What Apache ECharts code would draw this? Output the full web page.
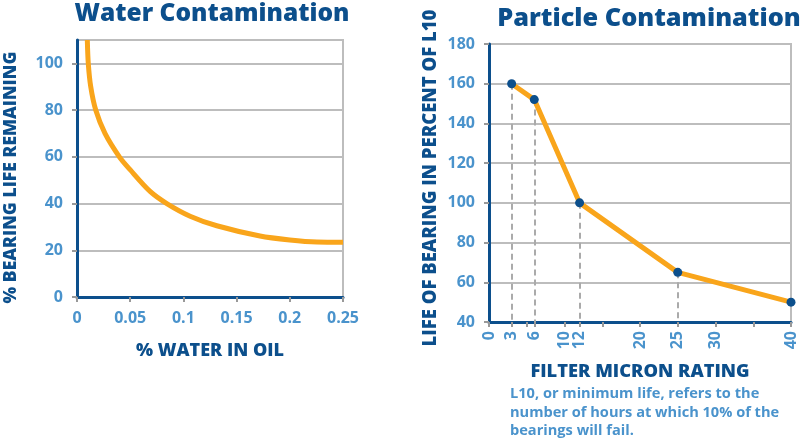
<!DOCTYPE html>
<html><head><meta charset="utf-8">
<script src="https://cdn.jsdelivr.net/npm/echarts@6/dist/echarts.min.js"></script>
<style>html,body{margin:0;padding:0;background:#fff}#c{width:800px;height:440px}</style>
</head><body><div id="c"></div>
<script>
// Water contamination curve (x = % water in oil, y = % bearing life remaining)
var waterX = [0.0097, 0.0106, 0.0129, 0.0176, 0.0263, 0.0398, 0.0499, 0.0687, 0.0844, 0.1063, 0.1314, 0.172, 0.2, 0.2255, 0.25];
var waterY = [110, 100, 90, 80, 70, 60, 54.5, 45.2, 40, 34.6, 30.5, 26.1, 24.4, 23.5, 23.4];
// Particle contamination (x = filter micron rating, y = life in % of L10)
var microns = [3, 6, 12, 25, 40];
var lifePct = [160, 152, 100, 65, 50];
var dropLineMicrons = [3, 6, 12, 25];
var micronTicks = [0, 3, 5, 6, 10, 12, 15, 20, 25, 30, 35, 40];
var micronLabels = [0, 3, 6, 10, 12, 20, 25, 30, 40];

var DARK = '#0c4f8c', LIGHT = '#4a93cc', ORANGE = '#f9a51b', GRID = '#bdbdbd', FONT = 'Open Sans';

var waterData = waterX.map(function (x, i) { return [x, waterY[i]]; });
var particleData = microns.map(function (x, i) { return [x, lifePct[i]]; });
var dropLines = dropLineMicrons.map(function (m) {
  var y = lifePct[microns.indexOf(m)];
  return [{ coord: [m, y] }, { coord: [m, 40] }];
});

var tickLabelStyle = { color: LIGHT, fontFamily: FONT, fontWeight: 'bold', fontSize: 16 };
function nameStyle(size, pad) {
  return { color: DARK, fontFamily: FONT, fontWeight: 800, fontSize: size, padding: pad };
}

var chart = echarts.init(document.getElementById('c'));
chart.setOption({
  animation: false,
  title: [
    { text: 'Water Contamination', left: 207, top: -3, textAlign: 'center',
      textStyle: { color: DARK, fontFamily: FONT, fontWeight: 800, fontSize: 24.5 } },
    { text: 'Particle Contamination', left: 644, top: 1, textAlign: 'center',
      textStyle: { color: DARK, fontFamily: FONT, fontWeight: 800, fontSize: 25.3 } }
  ],
  graphic: [
    { type: 'text', left: 510, top: 385,
      style: { text: 'L10, or minimum life, refers to the\nnumber of hours at which 10% of the\nbearings will fail.',
        fill: LIGHT, font: 'bold 14.6px "Open Sans"', lineHeight: 18.5 } }
  ],
  grid: [
    { left: 77, top: 40, right: 457, bottom: 143, show: true, borderColor: GRID, borderWidth: 2 },
    { left: 489, top: 44, right: 9, bottom: 118, show: true, borderColor: GRID, borderWidth: 2 }
  ],
  xAxis: [
    { type: 'value', gridIndex: 0, min: 0, max: 0.25, interval: 0.05,
      name: '% WATER IN OIL', nameLocation: 'middle', nameGap: 45, nameTextStyle: nameStyle(18, 0),
      axisLine: { lineStyle: { color: DARK, width: 3 } },
      axisTick: { show: true, length: 5, lineStyle: { color: '#999', width: 2 } },
      axisLabel: Object.assign({ margin: 13 }, tickLabelStyle),
      splitLine: { show: false } },
    { type: 'value', gridIndex: 1, min: 0, max: 40,
      name: 'FILTER MICRON RATING', nameLocation: 'middle', nameGap: 41, nameTextStyle: nameStyle(18.3, 0),
      axisLine: { lineStyle: { color: DARK, width: 3 } },
      axisTick: { show: true, length: 5, customValues: micronTicks, lineStyle: { color: '#999', width: 2 } },
      axisLabel: Object.assign({ margin: 9, rotate: 90, customValues: micronLabels }, tickLabelStyle),
      splitLine: { show: false } }
  ],
  yAxis: [
    { type: 'value', gridIndex: 0, min: 0, max: 110, interval: 20,
      name: '% BEARING LIFE REMAINING', nameLocation: 'middle', nameGap: 57, nameTextStyle: nameStyle(17.6, [0, 18, 0, 0]),
      axisLine: { show: true, lineStyle: { color: DARK, width: 3 } },
      axisTick: { show: true, length: 5, lineStyle: { color: '#999', width: 2 } },
      axisLabel: Object.assign({ margin: 14, showMaxLabel: false }, tickLabelStyle),
      splitLine: { lineStyle: { color: GRID, width: 2 } } },
    { type: 'value', gridIndex: 1, min: 40, max: 180, interval: 20,
      name: 'LIFE OF BEARING IN PERCENT OF L10', nameLocation: 'middle', nameGap: 49, nameTextStyle: nameStyle(18.5, [0, 0, 0, 10]),
      axisLine: { show: true, lineStyle: { color: DARK, width: 3 } },
      axisTick: { show: true, length: 5, lineStyle: { color: '#999', width: 2 } },
      axisLabel: Object.assign({ margin: 14 }, tickLabelStyle),
      splitLine: { lineStyle: { color: GRID, width: 2 } } }
  ],
  series: [
    { type: 'line', xAxisIndex: 0, yAxisIndex: 0, data: waterData, smooth: 0.3,
      showSymbol: false, lineStyle: { color: ORANGE, width: 5 }, z: 5 },
    { type: 'line', xAxisIndex: 1, yAxisIndex: 1, data: particleData, symbol: 'circle', symbolSize: 9,
      itemStyle: { color: DARK }, lineStyle: { color: ORANGE, width: 5 }, z: 5,
      markLine: { silent: true, symbol: 'none', label: { show: false },
        lineStyle: { color: '#aaa', width: 2, type: [6, 4] }, data: dropLines, z: 2 } }
  ]
});
</script></body></html>
